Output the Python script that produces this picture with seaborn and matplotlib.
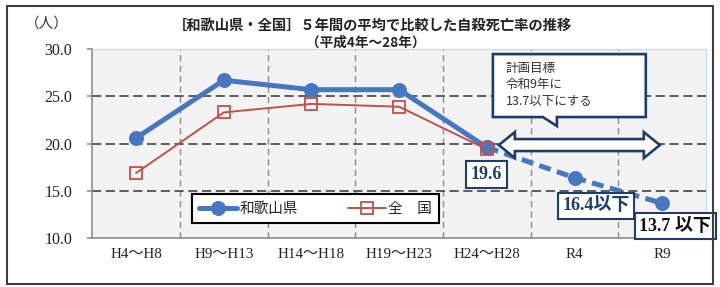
import numpy as np
import matplotlib
matplotlib.use("Agg")
import matplotlib.pyplot as plt
import matplotlib.patches as mpatches
import seaborn as sns

# data
cats = ["H4～H8", "H9～H13", "H14～H18", "H19～H23", "H24～H28", "R4", "R9"]
wakayama = [20.6, 26.7, 25.7, 25.7, 19.6]
target = [19.6, 16.4, 13.7]
national = [16.9, 23.3, 24.2, 23.9, 19.4]
yticks = [10, 15, 20, 25, 30]
labels = ["19.6", "16.4以下", "13.7 以下"]

blue = "#4677BF"
red = "#C0504D"
navy = "#1F3D66"
jp = ["Noto Sans CJK JP", "DejaVu Sans"]
serif = ["Liberation Serif", "Noto Sans CJK JP"]

sns.set_style("white")
plt.rcParams["font.family"] = jp

pos = np.arange(len(cats))

fig = plt.figure(figsize=(7.2, 2.87), dpi=100)
ax = fig.add_axes([0.1282, 0.1697, 0.8524, 0.6596])
ax.set_facecolor("#F2F2F2")

sns.lineplot(x=pos[:5], y=wakayama, ax=ax, color=blue, lw=3.6, marker="o",
             markersize=10, mec=blue, mfc=blue, label="和歌山県", zorder=4)
sns.lineplot(x=pos[4:], y=target, ax=ax, color=blue, lw=3.6, marker="o",
             markersize=10, mec=blue, mfc=blue, linestyle=(0, (2.4, 1.3)),
             label="_nolegend_", zorder=4)
sns.lineplot(x=pos[:5], y=national, ax=ax, color=red, lw=1.4, marker="s",
             markersize=8, mec=red, mfc="none", mew=1.3, label="全　国", zorder=5)

ax.set_xlim(-0.5, len(cats) - 0.5)
ax.set_ylim(10, 30)
ax.set_xticks(pos)
ax.set_xticklabels(cats, family=serif, fontsize=10.8, color="#222222")
ax.set_xticks(pos[:-1] + 0.5, minor=True)
ax.set_yticks(yticks)
ax.set_yticklabels([f"{v:.1f}" for v in yticks], family=serif, fontsize=11.5,
                   color="#222222")
ax.tick_params(axis="x", which="both", length=0, pad=7)
ax.tick_params(axis="y", length=3.6, width=1.1, color="#868686", pad=11, left=True)

ax.grid(False)
ax.xaxis.grid(True, which="minor", color="#8C8C8C", lw=1.0, ls=(0, (4.5, 3)))
ax.yaxis.grid(True, which="major", color="#333333", lw=1.1, ls=(0, (6, 3)))
ygl = ax.get_ygridlines()
ygl[0].set_visible(False)
ygl[-1].set_visible(False)
ax.set_axisbelow(True)

for s in ["left", "bottom"]:
    ax.spines[s].set_color("#868686")
    ax.spines[s].set_linewidth(1.1)
for s in ["top", "right"]:
    ax.spines[s].set_color("#C6D9F1")
    ax.spines[s].set_linewidth(0.8)

leg = ax.legend(loc="lower left", bbox_to_anchor=(0.1625, 0.0808, 0.4025, 0.1638),
                mode="expand", ncol=2, fontsize=10.5, frameon=True, fancybox=False,
                borderpad=0.5, handlelength=2.6, handletextpad=0.15,
                borderaxespad=0, columnspacing=1.0)
frame = leg.get_frame()
frame.set_edgecolor("black")
frame.set_linewidth(1.5)
frame.set_facecolor("white")
frame.set_alpha(1)
leg.set_zorder(6)
for t in leg.get_texts():
    t.set_color("#222222")

# callout box with tail
px_x = 87.7
px_y = 9.47
cx0, cx1, cy0, cy1 = 4.069, 5.813, 22.81, 29.46
tail = [(4.639, cy0), (4.799, 21.86), (4.799, cy0)]
verts = [(cx0, cy0), (cx0, cy1), (cx1, cy1), (cx1, cy0), tail[2], tail[1], tail[0]]
ax.add_patch(mpatches.Polygon(verts, closed=True, fc="white", ec=navy, lw=1.9,
                              zorder=7, clip_on=False))
ax.text(4.217, 26.2, "計画目標\n令和9年に\n13.7以下にする", fontsize=9,
        color="#333333", ha="left", va="center", linespacing=1.35, zorder=8)

# double arrow
ax0, ax1, ay = 4.137, 5.973, 19.85
bh = 6 / px_y
hh = 13 / px_y
hl = 16 / px_x
arrow = [(ax0, ay), (ax0 + hl, ay + hh), (ax0 + hl, ay + bh), (ax1 - hl, ay + bh),
         (ax1 - hl, ay + hh), (ax1, ay), (ax1 - hl, ay - hh), (ax1 - hl, ay - bh),
         (ax0 + hl, ay - bh), (ax0 + hl, ay - hh)]
ax.add_patch(mpatches.Polygon(arrow, closed=True, fc="white", ec=navy, lw=1.9,
                              zorder=7, clip_on=False))

# value labels
lab_pos = [(3.995, 16.74), (5.246, 13.46), (6.15, 11.3)]
lab_col = [navy, navy, "#111111"]
for (x, y), s, c in zip(lab_pos, labels, lab_col):
    ax.text(x, y, s, family=serif, fontsize=13, fontweight="bold", color=c,
            ha="center", va="center", zorder=9, clip_on=False,
            bbox=dict(boxstyle="square,pad=0.25", fc="white", ec=navy, lw=1.5))

# titles
fig.text(372 / 720, 1 - 26 / 287, "［和歌山県・全国］５年間の平均で比較した自殺死亡率の推移",
         ha="center", va="center", fontsize=10.3, fontweight="bold", color="#222222")
fig.text(366 / 720, 1 - 43 / 287, "（平成4年～28年）", ha="center", va="center",
         fontsize=9.8, fontweight="bold", color="#222222")
fig.text(47 / 720, 1 - 24 / 287, "（人）", ha="center", va="center", fontsize=10.5,
         color="#333333")

fig.patches.append(mpatches.Rectangle((7 / 720, 3 / 287), 706 / 720, 278 / 287,
                                      transform=fig.transFigure, fill=False,
                                      ec="#3F3F3F", lw=1.5))

fig.savefig("out.png", dpi=100)
